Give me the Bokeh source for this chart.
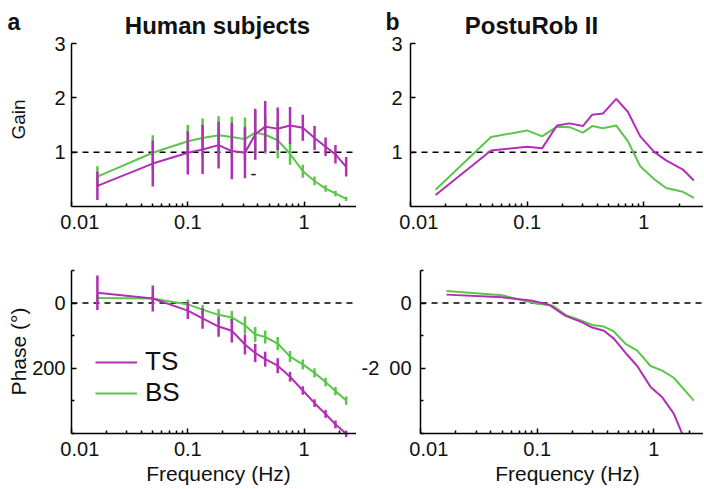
import math
from bokeh.plotting import figure
from bokeh.layouts import column, row
from bokeh.models import (Label, Legend, LegendItem, FixedTicker,
                          CustomJSTickFormatter)
from bokeh.embed import file_html
from bokeh.resources import INLINE

# ---------------- data ----------------
# Human subjects (mean +/- sd)
freq_hs = [0.0167, 0.05, 0.1, 0.134, 0.184, 0.239, 0.31, 0.38, 0.463, 0.593,
           0.757, 0.975, 1.23, 1.53, 1.86, 2.3]
gain_ts = [0.38, 0.79, 0.99, 1.05, 1.13, 1.02, 0.99, 1.33, 1.47, 1.43, 1.49,
           1.45, 1.26, 1.10, 0.96, 0.73]
gain_ts_err = [0.26, 0.42, 0.40, 0.45, 0.43, 0.52, 0.47, 0.47, 0.47, 0.39,
               0.34, 0.24, 0.22, 0.17, 0.17, 0.18]
gain_bs = [0.55, 0.99, 1.20, 1.26, 1.31, 1.28, 1.24, 1.36, 1.32, 1.22, 0.97,
           0.65, 0.47, 0.33, 0.24, 0.14]
gain_bs_err = [0.19, 0.32, 0.30, 0.36, 0.35, 0.37, 0.40, 0.40, 0.35, 0.33,
               0.20, 0.12, 0.08, 0.06, 0.05, 0.04]
phase_ts = [32, 14, -23, -47, -72, -85, -127, -153, -172, -192, -226, -268,
            -307, -340, -372, -401]
phase_ts_err = [53, 40, 26, 32, 31, 36, 31, 28, 23, 23, 15, 13, 12, 12, 12, 10]
phase_bs = [16, 14, -4, -20, -36, -44, -68, -96, -104, -124, -164, -188, -214,
            -242, -270, -299]
phase_bs_err = [10, 10, 15, 15, 18, 20, 27, 23, 20, 20, 17, 15, 14, 13, 13, 13]

# PostuRob II
freq_pr_gain = [0.0164, 0.049, 0.1, 0.134, 0.18, 0.231, 0.3, 0.361, 0.445,
                0.58, 0.73, 0.93, 1.23, 1.55, 2.16, 2.68]
gain_pr_ts = [0.21, 1.03, 1.10, 1.07, 1.49, 1.53, 1.48, 1.69, 1.71, 1.98,
              1.74, 1.29, 1.00, 0.85, 0.68, 0.48]
gain_pr_bs = [0.31, 1.28, 1.40, 1.29, 1.47, 1.46, 1.36, 1.48, 1.44, 1.49,
              1.20, 0.74, 0.50, 0.34, 0.27, 0.16]
freq_pr_ph_ts = [0.0167, 0.05, 0.091, 0.126, 0.175, 0.243, 0.296, 0.373,
                 0.454, 0.572, 0.72, 0.936, 1.18, 1.48, 1.75]
phase_pr_ts = [26, 18, 7, -5, -39, -59, -75, -85, -109, -153, -193, -257,
               -289, -339, -401]
freq_pr_ph_bs = [0.0167, 0.05, 0.1, 0.135, 0.175, 0.24, 0.296, 0.373, 0.454,
                 0.572, 0.72, 0.936, 1.18, 1.48, 2.2]
phase_pr_bs = [37, 24, -2, -7, -36, -54, -67, -72, -87, -125, -146, -193,
               -207, -229, -299]

x_ticks = [0.01, 0.1, 1]
x_minor = [0.02, 0.03, 0.04, 0.05, 0.06, 0.07, 0.08, 0.09,
           0.2, 0.3, 0.4, 0.5, 0.6, 0.7, 0.8, 0.9, 2]
gain_ticks = [1, 2, 3]
gain_bounds = (0, 3)
phase_ticks = [-200, 0]
phase_minor = [-400, -300, -100, 100]
phase_bounds = (-400, 100)

# ---------------- style ----------------
MAG = "#B12FB4"
GRN = "#5BC74A"
FONT = "Liberation Sans"
TXT = "#111111"
NB = "\u00a0"

X_FMT = ("if (tick < 0.015) return '" + NB * 3 + "0.01';"
         " return tick.toString();")


def make_fig(width, height, ax_left, frame_w, decade, ax_bottom_from_top,
             frame_h, ybounds, yticks, yminor, yfmt_code, ystandoff):
    """Figure whose frame fills the canvas; axes drawn at fixed locations."""
    x0 = x_ticks[0]
    x_start = x0 * 10 ** (-ax_left / decade)
    x_end = x0 * 10 ** (frame_w / decade)
    ppu = frame_h / (ybounds[1] - ybounds[0])
    y_start = ybounds[0] - (height - ax_bottom_from_top) / ppu
    y_end = ybounds[1] + (ax_bottom_from_top - frame_h) / ppu
    p = figure(width=width, height=height, x_axis_type="log",
               x_range=(x_start, x_end), y_range=(y_start, y_end),
               output_backend="svg", toolbar_location=None,
               min_border=0, min_border_left=0, min_border_right=0,
               min_border_top=0, min_border_bottom=0)
    p.title.visible = False
    p.xgrid.visible = False
    p.ygrid.visible = False
    p.outline_line_color = None
    p.background_fill_color = "white"
    p.border_fill_color = "white"

    xa = p.xaxis[0]
    xa.ticker = FixedTicker(ticks=x_ticks, minor_ticks=x_minor)
    xa.formatter = CustomJSTickFormatter(code=X_FMT)
    xa.fixed_location = ybounds[0]
    xa.bounds = (x0, x_end)
    ya = p.yaxis[0]
    ya.ticker = FixedTicker(ticks=yticks, minor_ticks=yminor)
    ya.formatter = CustomJSTickFormatter(code=yfmt_code)
    ya.fixed_location = x0
    ya.bounds = ybounds

    for ax in (xa, ya):
        ax.axis_line_color = "black"
        ax.axis_line_width = 1.5
        ax.major_tick_in = 5
        ax.major_tick_out = 0
        ax.minor_tick_in = 3
        ax.minor_tick_out = 0
        ax.major_tick_line_color = "black"
        ax.major_tick_line_width = 1.5
        ax.minor_tick_line_color = "black"
        ax.minor_tick_line_width = 1.5
        ax.major_label_text_font = FONT
        ax.major_label_text_color = TXT
    xa.major_label_text_font_size = "20px"
    xa.major_label_standoff = 4
    ya.major_label_text_font_size = "20px"
    ya.major_label_standoff = ystandoff
    return p, x_end


def add_label(p, text, x, y, size, bold=False, angle=0.0, align="left"):
    p.add_layout(Label(x=x, y=y, x_units="screen", y_units="screen",
                       text=text, text_font=FONT, text_font_size=size,
                       text_font_style="bold" if bold else "normal",
                       text_color=TXT, angle=angle,
                       text_align=align, text_baseline="alphabetic"))


def dashed(p, level, x_end):
    p.line([x_ticks[0], x_end], [level, level], line_color="black",
           line_width=1.5, line_dash="6 5")


W1, W2 = 356, 347
H1, H2 = 240, 248

# ---- a: gain ----
p1, e1 = make_fig(W1, H1, 71, 285, 116.3, 206, 163, gain_bounds, gain_ticks,
                  [], "return tick.toString()", 6)
dashed(p1, 1, e1)
lo = [v - e for v, e in zip(gain_bs, gain_bs_err)]
hi = [v + e for v, e in zip(gain_bs, gain_bs_err)]
p1.segment(freq_hs, lo, freq_hs, hi, line_color=GRN, line_width=2.5)
p1.line(freq_hs, gain_bs, line_color=GRN, line_width=2)
lo = [v - e for v, e in zip(gain_ts, gain_ts_err)]
hi = [v + e for v, e in zip(gain_ts, gain_ts_err)]
p1.segment(freq_hs, lo, freq_hs, hi, line_color=MAG, line_width=2.5)
p1.line(freq_hs, gain_ts, line_color=MAG, line_width=2)
add_label(p1, "a", 7, 219, "23px", bold=True)
add_label(p1, "Human subjects", 217, 215, "24px", bold=True, align="center")
add_label(p1, "Gain", 18, 121, "19px", angle=math.pi / 2, align="center")
add_label(p1, "-", 250, 67, "18px")

# ---- b: gain ----
p2, e2 = make_fig(W2, H1, 54, 293, 116.7, 206, 163, gain_bounds, gain_ticks,
                  [], "return tick.toString()", 8)
dashed(p2, 1, e2)
p2.line(freq_pr_gain, gain_pr_bs, line_color=GRN, line_width=2)
p2.line(freq_pr_gain, gain_pr_ts, line_color=MAG, line_width=2)
add_label(p2, "b", 29, 219, "23px", bold=True)
add_label(p2, "PostuRob II", 175, 215, "24px", bold=True, align="center")

# ---- a: phase ----
p3, e3 = make_fig(W1, H2, 71, 285, 116.3, 193, 163, phase_bounds,
                  phase_ticks, phase_minor,
                  "return tick == -200 ? '200' : tick.toString()", 6)
dashed(p3, 0, e3)
lo = [v - e for v, e in zip(phase_bs, phase_bs_err)]
hi = [v + e for v, e in zip(phase_bs, phase_bs_err)]
p3.segment(freq_hs, lo, freq_hs, hi, line_color=GRN, line_width=2.5)
r_bs = p3.line(freq_hs, phase_bs, line_color=GRN, line_width=2)
lo = [v - e for v, e in zip(phase_ts, phase_ts_err)]
hi = [v + e for v, e in zip(phase_ts, phase_ts_err)]
p3.segment(freq_hs, lo, freq_hs, hi, line_color=MAG, line_width=2.5)
r_ts = p3.line(freq_hs, phase_ts, line_color=MAG, line_width=2)
add_label(p3, "Phase (\u00b0)", 18, 137, "21px", angle=math.pi / 2,
          align="center")
add_label(p3, "Frequency (Hz)", 218, 15, "21px", align="center")
legend = Legend(items=[LegendItem(label="TS", renderers=[r_ts]),
                       LegendItem(label="BS", renderers=[r_bs])],
                location=(95, 80), orientation="vertical", padding=0,
                spacing=0, margin=0, glyph_width=42, glyph_height=28,
                label_height=28, label_standoff=8,
                label_text_font=FONT, label_text_font_size="26px",
                label_text_color=TXT,
                background_fill_alpha=0, border_line_alpha=0)
p3.add_layout(legend)

# ---- b: phase ----
p4, e4 = make_fig(W2, H2, 64, 283, 116.7, 193, 163, phase_bounds,
                  phase_ticks, phase_minor,
                  "return tick == -200 ? '-2\u2002' + '00' : tick.toString()",
                  9)
dashed(p4, 0, e4)
p4.line(freq_pr_ph_bs, phase_pr_bs, line_color=GRN, line_width=2)
p4.line(freq_pr_ph_ts, phase_pr_ts, line_color=MAG, line_width=2)
add_label(p4, "Frequency (Hz)", 211, 15, "21px", align="center")

layout = column(row(p1, p2), row(p3, p4))
open("out.html", "w").write(file_html(layout, INLINE))
